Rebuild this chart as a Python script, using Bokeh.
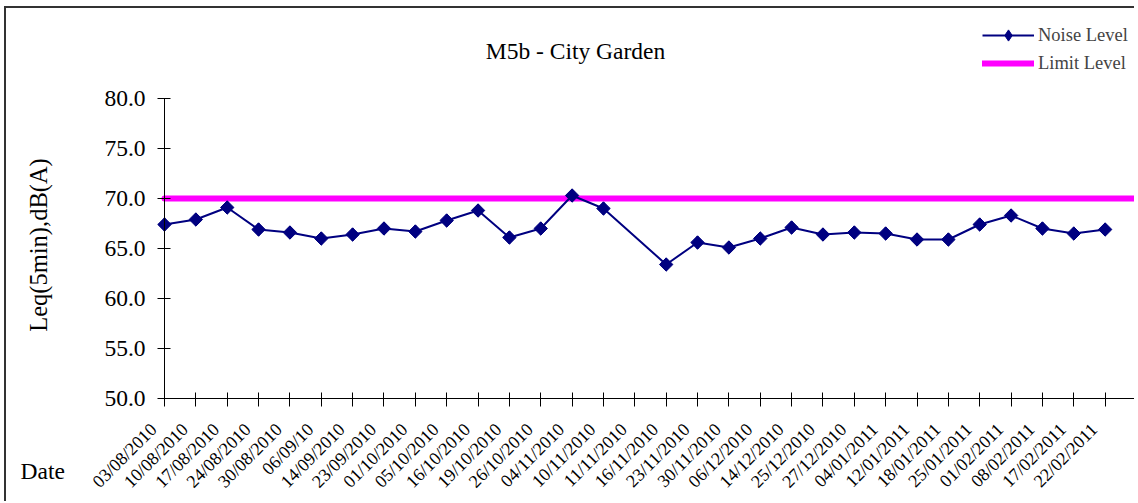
import math
from bokeh.plotting import figure
from bokeh.models import (Range1d, FixedTicker, Legend, LegendItem, Label,
                          LinearAxis, PrintfTickFormatter)
from bokeh.embed import file_html
from bokeh.resources import INLINE

# ---------------- data ----------------
dates = ["03/08/2010", "10/08/2010", "17/08/2010", "24/08/2010", "30/08/2010",
         "06/09/10", "14/09/2010", "23/09/2010", "01/10/2010", "05/10/2010",
         "16/10/2010", "19/10/2010", "26/10/2010", "04/11/2010", "10/11/2010",
         "11/11/2010", "16/11/2010", "23/11/2010", "30/11/2010", "06/12/2010",
         "14/12/2010", "25/12/2010", "27/12/2010", "04/01/2011", "12/01/2011",
         "18/01/2011", "25/01/2011", "01/02/2011", "08/02/2011", "17/02/2011",
         "22/02/2011"]
noise_level = [67.4, 67.9, 69.1, 66.9, 66.6, 66.0, 66.4, 67.0, 66.7, 67.8,
               68.8, 66.1, 67.0, 70.3, 69.0, None, 63.4, 65.6, 65.1, 66.0,
               67.1, 66.4, 66.6, 66.5, 65.9, 65.9, 67.4, 68.3, 67.0, 66.5,
               66.9]
limit_level = 70.0
y_ticks = [50, 55, 60, 65, 70, 75, 80]
title_text = "M5b - City Garden"
y_title = "Leq(5min),dB(A)"
x_title = "Date"

FONT = "Liberation Serif"
n_slots = len(dates)          # category axis runs 0..n_slots

# ---------------- geometry (figure px; content origin at page (6, 8)) ----------------
W, H = 1130, 495
OX, OY = 6, 8
axis_x_px = 164 - OX              # where category 0 sits
axis_y_px = 398 - OY              # where 50 dB sits
ppu = (W - axis_x_px) / n_slots   # px per category
ppd = 10.0                        # px per dB
x_start = -axis_x_px / ppu
y_end = 50 + axis_y_px / ppd
y_start = 50 - (H - axis_y_px) / ppd
label_shift = 0.35                # tick labels sit a little left of their tick

def page_x(px):
    return (px - OX - axis_x_px) / ppu

def page_y(py):
    return y_end - (py - OY) / ppd

p = figure(width=W, height=H, output_backend="svg", toolbar_location=None,
           x_range=Range1d(x_start, n_slots), y_range=Range1d(y_start, y_end),
           x_axis_location=None, y_axis_location=None,
           min_border_left=0, min_border_right=0, min_border_top=0,
           min_border_bottom=0)
p.outline_line_color = None
p.background_fill_color = "white"
p.border_fill_color = "white"
p.grid.visible = False
p.styles = {"border-left": "2px solid #333333", "border-top": "2px solid #333333",
            "margin-left": "4px", "margin-top": "6px"}

# ---- y axis (fixed at category 0)
ya = LinearAxis(fixed_location=0, bounds=(50, 80),
                ticker=FixedTicker(ticks=y_ticks),
                formatter=PrintfTickFormatter(format="%.1f"),
                major_label_text_font=FONT, major_label_text_font_size="23.5px",
                major_label_text_color="black", major_label_standoff=12,
                major_tick_in=6, major_tick_out=7, minor_tick_line_color=None,
                axis_line_color="black", major_tick_line_color="black")
p.add_layout(ya, "left")

# ---- x axis (fixed at 50 dB): line + ticks
xa = LinearAxis(fixed_location=50, bounds=(0, n_slots),
                ticker=FixedTicker(ticks=list(range(n_slots + 1))),
                major_label_overrides={i: "" for i in range(n_slots + 1)},
                major_label_text_font_size="0px", major_label_standoff=0,
                major_tick_in=6, major_tick_out=8, minor_tick_line_color=None,
                axis_line_color="black", major_tick_line_color="black")
p.add_layout(xa, "below")

# ---- x tick labels (dates)
p.extra_x_ranges = {"lab": Range1d(x_start + label_shift, n_slots + label_shift)}
xb = LinearAxis(x_range_name="lab", fixed_location=50,
                ticker=FixedTicker(ticks=list(range(n_slots))),
                major_label_overrides={i: d for i, d in enumerate(dates)},
                major_label_orientation=math.pi / 4,
                major_label_text_font=FONT, major_label_text_font_size="18px",
                major_label_text_color="black", major_label_standoff=28,
                axis_line_color=None, major_tick_line_color=None,
                minor_tick_line_color=None, major_tick_in=0, major_tick_out=0)
p.add_layout(xb, "below")

# ---------------- series ----------------
xs = [i for i, v in enumerate(noise_level) if v is not None]
ys = [v for v in noise_level if v is not None]

limit_r = p.line([0, n_slots], [limit_level, limit_level], line_color="#FF00FF",
                 line_width=6, line_cap="round")
line_r = p.line(xs, ys, line_color="#000080", line_width=2)
# diamond marks (used for the legend swatch), covered by the rotated squares
swatch_r = p.scatter(xs, ys, marker="diamond", size=13,
                     fill_color="#000080", line_color="#000080")
pts_r = p.scatter(xs, ys, marker="square", angle=math.pi / 4, size=9.5,
                  fill_color="#000080", line_color="#000080")

legend = Legend(items=[LegendItem(label="Noise Level", renderers=[line_r, swatch_r]),
                       LegendItem(label="Limit Level", renderers=[limit_r])],
                location=(976, 426), orientation="vertical")
legend.background_fill_alpha = 0
legend.border_line_color = None
legend.label_text_font = FONT
legend.label_text_font_size = "18.5px"
legend.glyph_width = 52
legend.glyph_height = 28
legend.label_height = 20
legend.spacing = 0
legend.padding = 4
legend.margin = 0
legend.label_standoff = 4
p.add_layout(legend)

# ---------------- texts ----------------
p.add_layout(Label(x=page_x(575), y=page_y(50), text=title_text, text_font=FONT,
                   text_font_size="23.5px", text_align="center",
                   text_baseline="middle", text_color="black"))
p.add_layout(Label(x=page_x(37.5), y=page_y(244.5), text=y_title, angle=math.pi / 2,
                   text_font=FONT, text_font_size="24.5px", text_align="center",
                   text_baseline="middle", text_color="black"))
p.add_layout(Label(x=page_x(20), y=page_y(470), text=x_title, text_font=FONT,
                   text_font_size="23.5px", text_align="left",
                   text_baseline="middle", text_color="black"))

open("out.html", "w").write(file_html(p, INLINE))
